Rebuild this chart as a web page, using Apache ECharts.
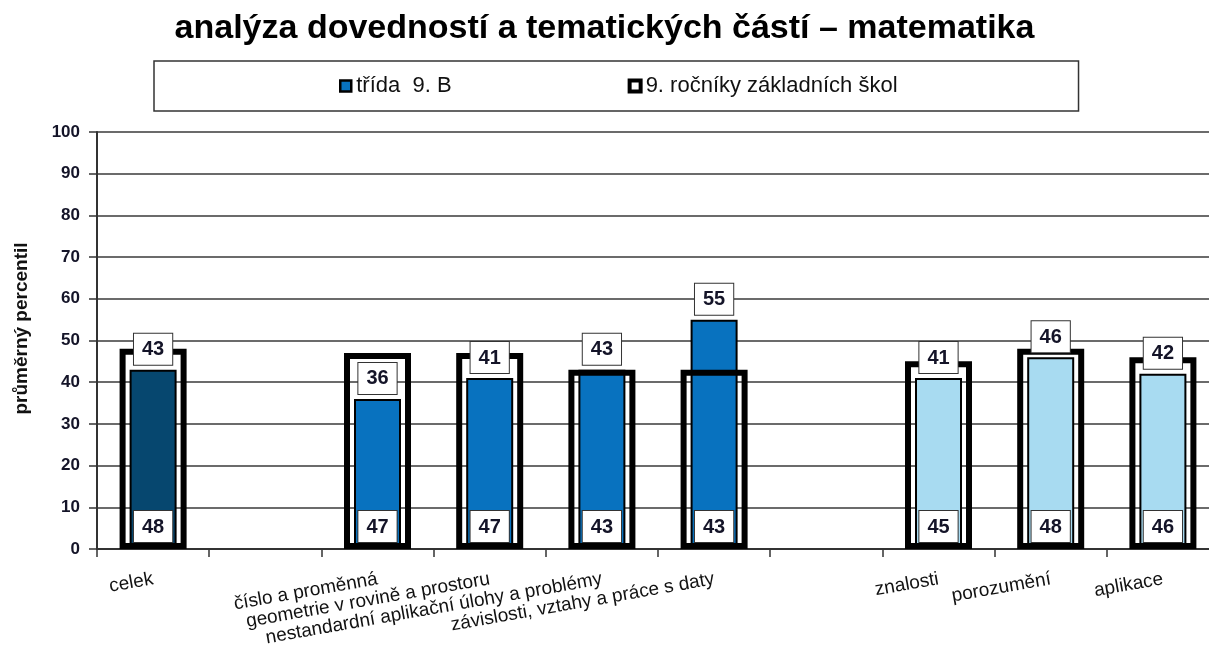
<!DOCTYPE html>
<html>
<head>
<meta charset="utf-8">
<title>analýza dovedností</title>
<script src="https://cdn.jsdelivr.net/npm/echarts@6/dist/echarts.min.js"></script>
<style>
    html, body { margin: 0; padding: 0; background: #fff; }
    #main { width: 1209px; height: 648px; }
</style>
</head>
<body>
<div id="main"></div>
<script>
// data
var categories = ['celek', '', 'číslo a proměnná', 'geometrie v rovině a prostoru',
    'nestandardní aplikační úlohy a problémy', 'závislosti, vztahy a práce s daty', '',
    'znalosti', 'porozumění', 'aplikace'];
var trida = [43, null, 36, 41, 43, 55, null, 41, 46, 42];
var rocniky = [48, null, 47, 47, 43, 43, null, 45, 48, 46];
var yTicks = [0, 10, 20, 30, 40, 50, 60, 70, 80, 90, 100];

var nameTrida = 'třída  9. B';
var nameRocniky = '9. ročníky základních škol';

var FONT = '"Liberation Sans", Arial, sans-serif';
// barva sloupce podle skupiny
var barColors = ['#06476F', null, '#0872BF', '#0872BF', '#0872BF', '#0872BF', null, '#A8DBF1', '#A8DBF1', '#A8DBF1'];

var boxLabel = {
    show: true,
    fontFamily: FONT,
    fontSize: 20,
    fontWeight: 'bold',
    color: '#141428',
    backgroundColor: '#fff',
    borderColor: '#333',
    borderWidth: 1,
    padding: [6, 8, 5, 8],
    formatter: function (p) { return p.value == null ? '' : p.value; }
};

var myChart = echarts.init(document.getElementById('main'));

var option = {
    animation: false,
    title: {
        text: 'analýza dovedností a tematických částí – matematika',
        left: 'center',
        top: 12,
        padding: 0,
        textStyle: { fontFamily: FONT, fontSize: 34, fontWeight: 'bold', color: '#000' }
    },
    legend: {
        left: 154,
        top: 61,
        padding: [14, 181, 14, 185],
        borderColor: '#333',
        borderWidth: 1.5,
        itemGap: 176,
        itemWidth: 11,
        itemHeight: 11,
        textStyle: { fontFamily: FONT, fontSize: 22, color: '#111' },
        data: [
            { name: nameTrida, icon: 'rect', itemStyle: { color: '#0872BF', borderColor: '#000', borderWidth: 2.5 } },
            { name: nameRocniky, icon: 'rect', itemStyle: { color: '#fff', borderColor: '#000', borderWidth: 4 } }
        ]
    },
    grid: { left: 97, width: 1122, top: 132, bottom: 99, outerBoundsMode: 'none', containLabel: false },
    xAxis: [{
        type: 'category',
        data: categories,
        axisLine: { lineStyle: { color: '#333', width: 2 } },
        axisTick: { show: true, interval: 0, length: 8, lineStyle: { color: '#333', width: 1.5 } },
        axisLabel: {
            interval: 0,
            rotate: 10,
            margin: 30,
            fontFamily: FONT,
            fontSize: 19,
            color: '#111'
        }
    }, {
        type: 'category',
        data: categories,
        show: false
    }],
    yAxis: {
        type: 'value',
        min: 0,
        max: 100,
        interval: 10,
        name: 'průměrný percentil',
        nameLocation: 'middle',
        nameGap: 66,
        nameTextStyle: { fontFamily: FONT, fontSize: 19, fontWeight: 'bold', color: '#111', padding: [0, 0, 0, 24] },
        axisLine: { show: true, lineStyle: { color: '#333', width: 2 } },
        axisTick: { show: true, length: 8, lineStyle: { color: '#333', width: 1.5 } },
        axisLabel: {
            margin: 17,
            fontFamily: FONT,
            fontSize: 17,
            fontWeight: 'bold',
            color: '#141428',
            formatter: function (v) { return yTicks.indexOf(v) >= 0 ? v : ''; }
        },
        splitLine: { lineStyle: { color: '#3a3a3a', width: 1.5 } }
    },
    series: [
        {
            name: nameTrida,
            type: 'bar',
            xAxisIndex: 0,
            barWidth: 47,
            z: 2,
            data: trida,
            itemStyle: {
                borderColor: '#000',
                borderWidth: 2,
                color: function (p) { return barColors[p.dataIndex]; }
            }
        },
        {
            name: nameRocniky,
            type: 'bar',
            xAxisIndex: 1,
            barWidth: 67,
            z: 3,
            data: rocniky,
            itemStyle: { color: 'rgba(255,255,255,0)', borderColor: '#000', borderWidth: 6 },
            label: Object.assign({}, boxLabel, { position: 'insideBottom', distance: 7 })
        },
        {
            // popisky třídy nad sloupci (nad rámečky)
            name: 'popisky',
            type: 'bar',
            xAxisIndex: 0,
            barWidth: 47,
            barGap: '-100%',
            z: 4,
            silent: true,
            data: trida,
            itemStyle: { color: 'rgba(0,0,0,0)' },
            label: Object.assign({}, boxLabel, { position: 'top', distance: 5 })
        }
    ]
};

myChart.setOption(option);

window.onresize = function () {
    myChart.resize();
};
</script>
</body>
</html>
